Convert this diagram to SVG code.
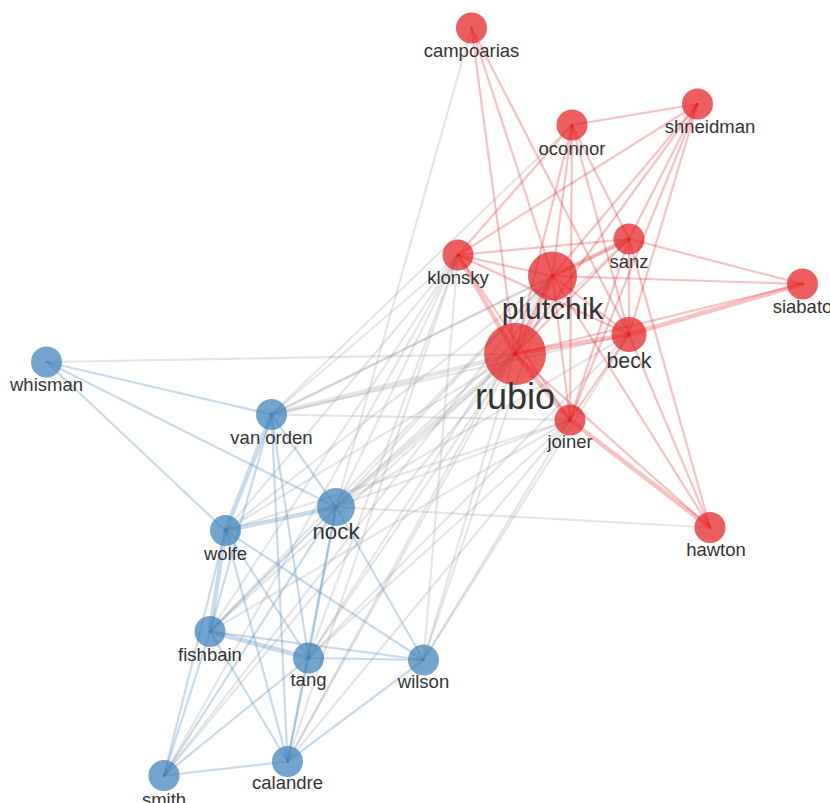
<svg xmlns="http://www.w3.org/2000/svg" width="830" height="803" viewBox="0 0 830 803">
<style>
.e line{stroke-width:2.2;stroke-linecap:round}
.r{stroke:#e41a1c;stroke-opacity:0.27}
.g{stroke:#999;stroke-opacity:0.25}
.b{stroke:#377eb8;stroke-opacity:0.28}
.t{stroke-width:4.5 !important}
.nr{fill:#e41a1c;fill-opacity:0.7}
.nb{fill:#377eb8;fill-opacity:0.7}
text{font-family:"Liberation Sans",Arial,sans-serif;fill:#333;text-anchor:middle}
.s{font-size:18.5px}
</style>
<rect width="830" height="803" fill="#fff"/>
<g id="connectors" class="e">
<line class="g" x1="471.5" y1="28" x2="336" y2="507"/>
<line class="g" x1="46.5" y1="362" x2="515" y2="354"/>
<line class="g" x1="710" y1="527.5" x2="336" y2="507"/>
<line class="g" x1="572" y1="125" x2="271.5" y2="414.5"/>
<line class="g t" x1="271.5" y1="414.5" x2="515" y2="354"/>
<line class="g" x1="271.5" y1="414.5" x2="552.5" y2="276"/>
<line class="g" x1="271.5" y1="414.5" x2="458" y2="255"/>
<line class="g" x1="271.5" y1="414.5" x2="629" y2="334.5"/>
<line class="g" x1="271.5" y1="414.5" x2="629" y2="239"/>
<line class="g" x1="271.5" y1="414.5" x2="570" y2="420"/>
<line class="g t" x1="336" y1="507" x2="515" y2="354"/>
<line class="g" x1="336" y1="507" x2="552.5" y2="276"/>
<line class="g" x1="336" y1="507" x2="458" y2="255"/>
<line class="g" x1="336" y1="507" x2="629" y2="334.5"/>
<line class="g" x1="336" y1="507" x2="629" y2="239"/>
<line class="g" x1="336" y1="507" x2="570" y2="420"/>
<line class="g" x1="225.5" y1="530.5" x2="515" y2="354"/>
<line class="g" x1="225.5" y1="530.5" x2="552.5" y2="276"/>
<line class="g" x1="225.5" y1="530.5" x2="458" y2="255"/>
<line class="g" x1="225.5" y1="530.5" x2="570" y2="420"/>
<line class="g" x1="210" y1="631.5" x2="515" y2="354"/>
<line class="g" x1="210" y1="631.5" x2="552.5" y2="276"/>
<line class="g" x1="210" y1="631.5" x2="458" y2="255"/>
<line class="g" x1="210" y1="631.5" x2="570" y2="420"/>
<line class="g" x1="308.5" y1="658" x2="515" y2="354"/>
<line class="g" x1="308.5" y1="658" x2="552.5" y2="276"/>
<line class="g" x1="308.5" y1="658" x2="458" y2="255"/>
<line class="g" x1="308.5" y1="658" x2="570" y2="420"/>
<line class="g" x1="308.5" y1="658" x2="629" y2="334.5"/>
<line class="g" x1="423.5" y1="660" x2="515" y2="354"/>
<line class="g" x1="423.5" y1="660" x2="552.5" y2="276"/>
<line class="g" x1="423.5" y1="660" x2="458" y2="255"/>
<line class="g" x1="423.5" y1="660" x2="570" y2="420"/>
<line class="g" x1="423.5" y1="660" x2="629" y2="334.5"/>
<line class="g" x1="287.5" y1="761.5" x2="515" y2="354"/>
<line class="g" x1="287.5" y1="761.5" x2="552.5" y2="276"/>
<line class="g" x1="287.5" y1="761.5" x2="458" y2="255"/>
<line class="g" x1="287.5" y1="761.5" x2="570" y2="420"/>
<line class="g" x1="164" y1="775.5" x2="515" y2="354"/>
<line class="g" x1="164" y1="775.5" x2="552.5" y2="276"/>
<line class="g" x1="164" y1="775.5" x2="458" y2="255"/>
<line class="r t" x1="515" y1="354" x2="552.5" y2="276"/>
<line class="r t" x1="515" y1="354" x2="629" y2="334.5"/>
<line class="r t" x1="515" y1="354" x2="458" y2="255"/>
<line class="r t" x1="515" y1="354" x2="570" y2="420"/>
<line class="r" x1="515" y1="354" x2="629" y2="239"/>
<line class="r" x1="515" y1="354" x2="572" y2="125"/>
<line class="r" x1="515" y1="354" x2="697.5" y2="104"/>
<line class="r" x1="515" y1="354" x2="471.5" y2="28"/>
<line class="r" x1="515" y1="354" x2="802.5" y2="284"/>
<line class="r" x1="515" y1="354" x2="710" y2="527.5"/>
<line class="r" x1="552.5" y1="276" x2="458" y2="255"/>
<line class="r t" x1="552.5" y1="276" x2="629" y2="239"/>
<line class="r" x1="552.5" y1="276" x2="629" y2="334.5"/>
<line class="r" x1="552.5" y1="276" x2="570" y2="420"/>
<line class="r" x1="552.5" y1="276" x2="572" y2="125"/>
<line class="r" x1="552.5" y1="276" x2="697.5" y2="104"/>
<line class="r" x1="552.5" y1="276" x2="471.5" y2="28"/>
<line class="r" x1="552.5" y1="276" x2="802.5" y2="284"/>
<line class="r" x1="552.5" y1="276" x2="710" y2="527.5"/>
<line class="r" x1="458" y1="255" x2="629" y2="239"/>
<line class="r" x1="458" y1="255" x2="629" y2="334.5"/>
<line class="r" x1="458" y1="255" x2="572" y2="125"/>
<line class="r" x1="458" y1="255" x2="697.5" y2="104"/>
<line class="r" x1="458" y1="255" x2="570" y2="420"/>
<line class="r" x1="629" y1="239" x2="629" y2="334.5"/>
<line class="r" x1="629" y1="239" x2="572" y2="125"/>
<line class="r" x1="629" y1="239" x2="697.5" y2="104"/>
<line class="r" x1="629" y1="239" x2="802.5" y2="284"/>
<line class="r" x1="629" y1="239" x2="570" y2="420"/>
<line class="r t" x1="629" y1="334.5" x2="802.5" y2="284"/>
<line class="r" x1="629" y1="334.5" x2="572" y2="125"/>
<line class="r" x1="629" y1="334.5" x2="697.5" y2="104"/>
<line class="r" x1="629" y1="334.5" x2="471.5" y2="28"/>
<line class="r" x1="629" y1="334.5" x2="570" y2="420"/>
<line class="r" x1="629" y1="334.5" x2="710" y2="527.5"/>
<line class="r" x1="570" y1="420" x2="572" y2="125"/>
<line class="r" x1="570" y1="420" x2="697.5" y2="104"/>
<line class="r t" x1="570" y1="420" x2="710" y2="527.5"/>
<line class="r" x1="572" y1="125" x2="697.5" y2="104"/>
<line class="r" x1="629" y1="239" x2="710" y2="527.5"/>
<line class="b" x1="46.5" y1="362" x2="271.5" y2="414.5"/>
<line class="b" x1="46.5" y1="362" x2="336" y2="507"/>
<line class="b" x1="46.5" y1="362" x2="225.5" y2="530.5"/>
<line class="b t" x1="271.5" y1="414.5" x2="225.5" y2="530.5"/>
<line class="b" x1="271.5" y1="414.5" x2="336" y2="507"/>
<line class="b" x1="271.5" y1="414.5" x2="210" y2="631.5"/>
<line class="b" x1="271.5" y1="414.5" x2="308.5" y2="658"/>
<line class="b" x1="271.5" y1="414.5" x2="287.5" y2="761.5"/>
<line class="b t" x1="336" y1="507" x2="225.5" y2="530.5"/>
<line class="b" x1="336" y1="507" x2="308.5" y2="658"/>
<line class="b" x1="336" y1="507" x2="423.5" y2="660"/>
<line class="b" x1="336" y1="507" x2="210" y2="631.5"/>
<line class="b" x1="336" y1="507" x2="287.5" y2="761.5"/>
<line class="b" x1="336" y1="507" x2="164" y2="775.5"/>
<line class="b t" x1="225.5" y1="530.5" x2="210" y2="631.5"/>
<line class="b" x1="225.5" y1="530.5" x2="308.5" y2="658"/>
<line class="b" x1="225.5" y1="530.5" x2="423.5" y2="660"/>
<line class="b" x1="225.5" y1="530.5" x2="164" y2="775.5"/>
<line class="b" x1="225.5" y1="530.5" x2="287.5" y2="761.5"/>
<line class="b t" x1="210" y1="631.5" x2="308.5" y2="658"/>
<line class="b" x1="210" y1="631.5" x2="423.5" y2="660"/>
<line class="b" x1="210" y1="631.5" x2="164" y2="775.5"/>
<line class="b" x1="210" y1="631.5" x2="287.5" y2="761.5"/>
<line class="b" x1="308.5" y1="658" x2="423.5" y2="660"/>
<line class="b" x1="308.5" y1="658" x2="287.5" y2="761.5"/>
<line class="b" x1="308.5" y1="658" x2="164" y2="775.5"/>
<line class="b" x1="423.5" y1="660" x2="287.5" y2="761.5"/>
<line class="b" x1="164" y1="775.5" x2="287.5" y2="761.5"/>
</g>
<g id="node-campoarias"><circle class="nr" cx="471.5" cy="28" r="15.5"/><text class="s" x="471.5" y="57">campoarias</text></g>
<g id="node-shneidman"><circle class="nr" cx="697.5" cy="104" r="15.5"/><text class="s" x="710" y="133">shneidman</text></g>
<g id="node-oconnor"><circle class="nr" cx="572" cy="125" r="15.5"/><text class="s" x="572" y="155">oconnor</text></g>
<g id="node-sanz"><circle class="nr" cx="629" cy="239" r="15.5"/><text class="s" x="629" y="268">sanz</text></g>
<g id="node-klonsky"><circle class="nr" cx="458" cy="255" r="15.5"/><text class="s" x="458" y="284">klonsky</text></g>
<g id="node-siabato"><circle class="nr" cx="802.5" cy="284" r="15.5"/><text class="s" x="802.5" y="313">siabato</text></g>
<g id="node-beck"><circle class="nr" cx="629" cy="334.5" r="17.5"/><text x="629" y="368" font-size="21.3">beck</text></g>
<g id="node-joiner"><circle class="nr" cx="570" cy="420" r="15.5"/><text class="s" x="570" y="448">joiner</text></g>
<g id="node-hawton"><circle class="nr" cx="710" cy="527.5" r="15.5"/><text class="s" x="716" y="556">hawton</text></g>
<g id="node-plutchik"><circle class="nr" cx="552.5" cy="276" r="24.5"/><text x="552.5" y="319" font-size="30">plutchik</text></g>
<g id="node-rubio"><circle class="nr" cx="515" cy="354" r="31"/><text x="515" y="409" font-size="36">rubio</text></g>
<g id="node-whisman"><circle class="nb" cx="46.5" cy="362" r="15.5"/><text class="s" x="46.5" y="391">whisman</text></g>
<g id="node-van-orden"><circle class="nb" cx="271.5" cy="414.5" r="15.5"/><text class="s" x="271.5" y="444">van orden</text></g>
<g id="node-nock"><circle class="nb" cx="336" cy="507" r="19"/><text x="336" y="539" font-size="22.3">nock</text></g>
<g id="node-wolfe"><circle class="nb" cx="225.5" cy="530.5" r="15.5"/><text class="s" x="225.5" y="560">wolfe</text></g>
<g id="node-fishbain"><circle class="nb" cx="210" cy="631.5" r="15.5"/><text class="s" x="210" y="661">fishbain</text></g>
<g id="node-tang"><circle class="nb" cx="308.5" cy="658" r="15.5"/><text class="s" x="308.5" y="686">tang</text></g>
<g id="node-wilson"><circle class="nb" cx="423.5" cy="660" r="15.5"/><text class="s" x="423.5" y="688">wilson</text></g>
<g id="node-calandre"><circle class="nb" cx="287.5" cy="761.5" r="15.5"/><text class="s" x="287.5" y="789">calandre</text></g>
<g id="node-smith"><circle class="nb" cx="164" cy="775.5" r="15.5"/><text class="s" x="164" y="806">smith</text></g>
</svg>
